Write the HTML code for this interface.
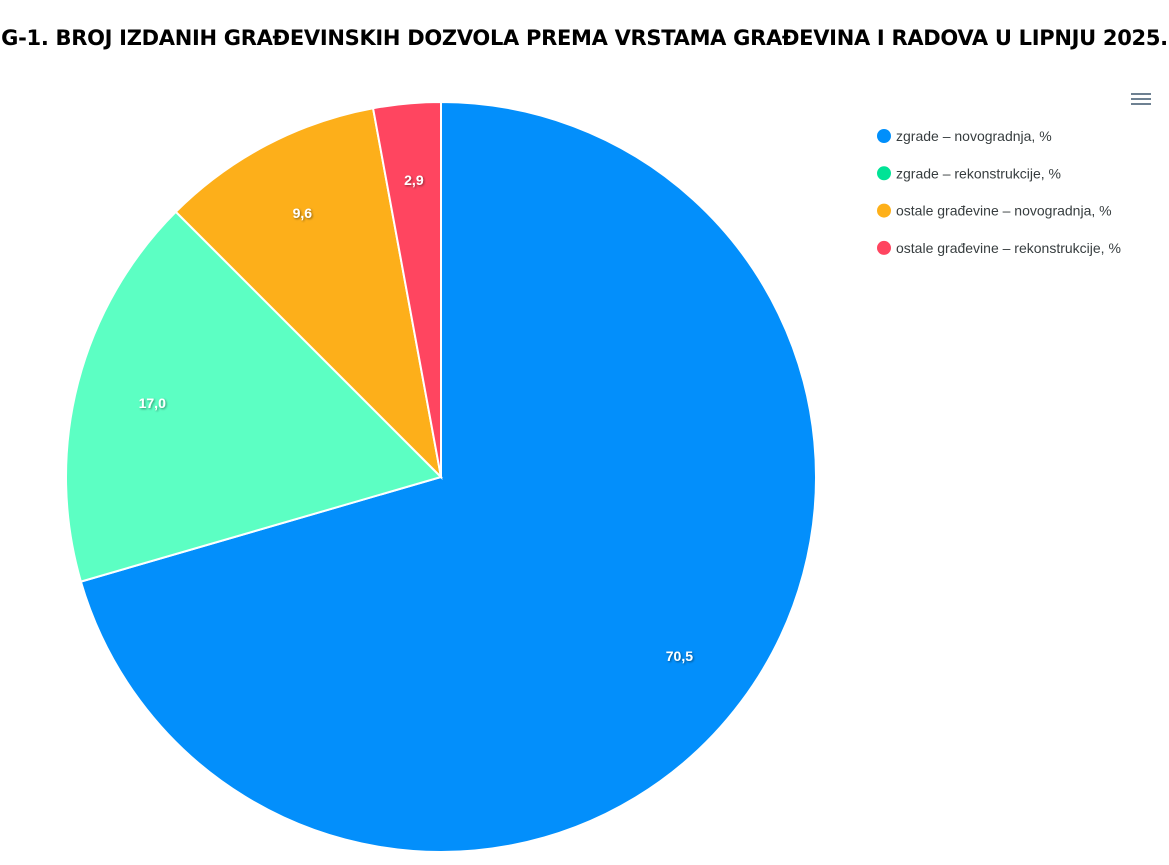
<!DOCTYPE html>
<html><head><meta charset="utf-8"><style>
body{margin:0;background:#fff;width:1169px;height:865px;overflow:hidden;font-family:"Liberation Sans",sans-serif}
#title{position:absolute;left:0;width:1169px;top:26px;text-align:center;font-weight:bold;font-size:21px;color:#000;font-family:"DejaVu Sans","Liberation Sans",sans-serif;letter-spacing:-0.3px}
</style></head><body>
<div id="title">G-1. BROJ IZDANIH GRAĐEVINSKIH DOZVOLA PREMA VRSTAMA GRAĐEVINA I RADOVA U LIPNJU 2025.</div>
<svg id="chart" width="1169" height="865" style="position:absolute;left:0;top:0">
<defs><filter id="sh"><feDropShadow dx="1" dy="1" stdDeviation="1" flood-color="#000" flood-opacity="0.45"/></filter></defs>
<g id="menu" fill="#6e8192">
<rect x="1131" y="93" width="20" height="2"/><rect x="1131" y="98" width="20" height="2"/><rect x="1131" y="103" width="20" height="2"/>
</g>
</svg>
<script>
const categories=["zgrade – novogradnja, %","zgrade – rekonstrukcije, %","ostale građevine – novogradnja, %","ostale građevine – rekonstrukcije, %"];
const values=[70.5,17.0,9.6,2.9];
const labels=["70,5","17,0","9,6","2,9"];
const sliceColors=["#038ffb","#5cffc3","#fdaf1a","#ff4560"];
const markerColors=["#008ffb","#00e396","#feb019","#ff4560"];
const svg=document.getElementById('chart');const NS="http://www.w3.org/2000/svg";
const cx=441,cy=477,r=375;
const total=values.reduce((a,b)=>a+b,0);
function pt(a,rad){return [cx+rad*Math.sin(a),cy-rad*Math.cos(a)];}
let a0=0;
values.forEach((v,i)=>{
 const a1=a0+v/total*2*Math.PI;
 const p0=pt(a0,r),p1=pt(a1,r);
 const path=document.createElementNS(NS,'path');
 path.setAttribute('d',`M${cx},${cy}L${p0[0]},${p0[1]}A${r},${r} 0 ${a1-a0>Math.PI?1:0} 1 ${p1[0]},${p1[1]}Z`);
 path.setAttribute('fill',sliceColors[i]);path.setAttribute('stroke','#fff');path.setAttribute('stroke-width','2');
 
 
 svg.appendChild(path);
 a0=a1;
});
a0=0;
values.forEach((v,i)=>{
 const a1=a0+v/total*2*Math.PI;const m=(a0+a1)/2;const p=pt(m,r*0.795);
 const t=document.createElementNS(NS,'text');
 t.setAttribute('x',p[0]);t.setAttribute('y',p[1]+5);t.setAttribute('text-anchor','middle');
 t.setAttribute('fill','#fff');t.setAttribute('font-weight','bold');t.setAttribute('font-size','14');t.setAttribute('filter','url(#sh)');
 t.textContent=labels[i];
 
 
 svg.appendChild(t);a0=a1;
});
categories.forEach((c,i)=>{
 const y=136+i*37.3;
 const g=document.createElementNS(NS,'g');
 
 
 const ci=document.createElementNS(NS,'circle');ci.setAttribute('cx',884);ci.setAttribute('cy',y);ci.setAttribute('r',7);ci.setAttribute('fill',markerColors[i]);
 const t=document.createElementNS(NS,'text');t.setAttribute('x',896);t.setAttribute('y',y+5);t.setAttribute('font-size','14');t.setAttribute('fill','#373d3f');t.textContent=c;
 g.appendChild(ci);g.appendChild(t);svg.appendChild(g);
});
</script>
</body></html>
